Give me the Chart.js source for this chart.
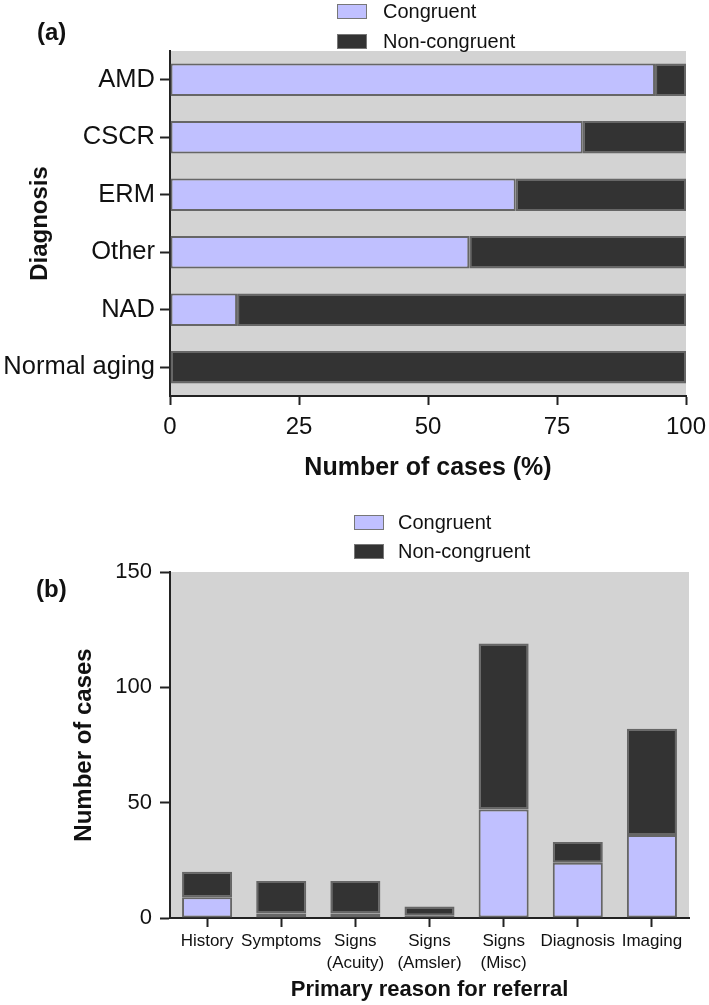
<!DOCTYPE html>
<html>
<head>
<meta charset="utf-8">
<script src="https://cdn.jsdelivr.net/npm/chart.js@4.4.1/dist/chart.umd.min.js"></script>
<style>
  body { margin: 0; background: #fff; font-family: "Liberation Sans", Arial, sans-serif; }
  #wrap { position: relative; width: 709px; height: 1005px; overflow: hidden; }
  canvas { position: absolute; left: 0; }
  .lbl { position: absolute; font-size: 20px; line-height: 20px; color: #111; white-space: nowrap; }
  .sw { position: absolute; width: 30px; height: 15px; box-sizing: border-box; border: 1px solid #777; }
  .panel { position: absolute; font-weight: bold; font-size: 24px; line-height: 28px; color: #111; }
</style>
</head>
<body>
<div id="wrap">
  <canvas id="chartA" width="709" height="500" style="top:0"></canvas>
  <canvas id="chartB" width="709" height="505" style="top:500px"></canvas>
  <div class="panel" style="left:37px;top:18px">(a)</div>
  <div class="panel" style="left:36px;top:575px">(b)</div>
  <div id="legendA"></div>
  <div id="legendB"></div>
</div>
<script>
// data
const seriesNames = ['Congruent', 'Non-congruent'];
const seriesColors = ['#c0c0ff', '#333333'];

// panel (a): % of cases per diagnosis
const diagnoses = ['AMD', 'CSCR', 'ERM', 'Other', 'NAD', 'Normal aging'];
const diagCongruent = [94, 80, 67, 58, 13, 0];
const diagNonCongruent = [6, 20, 33, 42, 87, 100];
const pctTicks = [0, 25, 50, 75, 100];

// panel (b): number of cases per primary reason for referral
const reasons = ['History', 'Symptoms', ['Signs', '(Acuity)'], ['Signs', '(Amsler)'], ['Signs', '(Misc)'], 'Diagnosis', 'Imaging'];
const reasonCongruent = [9, 2, 2, 1, 47, 24, 36];
const reasonNonCongruent = [11, 14, 14, 4, 72, 9, 46];
const countTicks = [0, 50, 100, 150];

Chart.defaults.font.family = '"Liberation Sans", Arial, sans-serif';
Chart.defaults.color = '#111';

// grey plot background
const plotBg = {
  id: 'plotBg',
  beforeDraw(chart) {
    const { ctx, chartArea: a } = chart;
    ctx.save();
    ctx.fillStyle = '#d3d3d3';
    ctx.fillRect(a.left, a.top, a.right - a.left, a.bottom - a.top);
    ctx.restore();
  }
};

// html legend, two rows
function buildLegend(id, left, textLeft, centers) {
  const box = document.getElementById(id);
  seriesNames.forEach((name, i) => {
    const sw = document.createElement('div');
    sw.className = 'sw';
    sw.style.left = left + 'px';
    sw.style.top = (centers[i] - 7) + 'px';
    sw.style.background = seriesColors[i];
    box.appendChild(sw);
    const t = document.createElement('div');
    t.className = 'lbl';
    t.style.left = textLeft + 'px';
    t.style.top = (centers[i] - 10) + 'px';
    t.textContent = name;
    box.appendChild(t);
  });
}
buildLegend('legendA', 337, 383, [11, 41]);
buildLegend('legendB', 354, 398, [522, 551]);

const axisLine = { color: '#222', width: 2 };
const tickGrid = { drawOnChartArea: false, drawTicks: true, tickLength: 10, tickColor: '#222', tickWidth: 2, offset: false };

function barSet(label, data, color) {
  return {
    label, data,
    backgroundColor: color,
    borderColor: '#666',
    borderWidth: 2,
    borderSkipped: false
  };
}

// no extra room for labels hanging over the plot edges
function noOverhang(s) {
  s.paddingLeft = 0; s.paddingRight = 0; s.paddingTop = 0; s.paddingBottom = 0;
}

// PANEL A - horizontal stacked bars
new Chart(document.getElementById('chartA'), {
  type: 'bar',
  data: {
    labels: diagnoses,
    datasets: [
      barSet(seriesNames[0], diagCongruent, seriesColors[0]),
      barSet(seriesNames[1], diagNonCongruent, seriesColors[1])
    ]
  },
  options: {
    indexAxis: 'y',
    responsive: false,
    animation: false,
    devicePixelRatio: 1,
    layout: { padding: { top: 51, right: 23, left: 0, bottom: 0 } },
    datasets: { bar: { barPercentage: 0.567, categoryPercentage: 1 } },
    plugins: { legend: { display: false }, tooltip: { enabled: false } },
    scales: {
      x: {
        type: 'linear', stacked: true, min: 0, max: 100,
        afterBuildTicks(s) { s.ticks = pctTicks.map(v => ({ value: v })); },
        afterFit(s) { s.height = 104; noOverhang(s); },
        border: axisLine,
        grid: { ...tickGrid, tickLength: 9 },
        ticks: { font: { size: 24 }, padding: 8, maxRotation: 0 },
        title: { display: true, text: 'Number of cases (%)', font: { size: 25, weight: 'bold' }, padding: { top: 0, bottom: 17 } }
      },
      y: {
        stacked: true,
        afterFit(s) { s.width = 170; noOverhang(s); },
        border: axisLine,
        grid: tickGrid,
        ticks: { font: { size: 25.5 }, padding: 5 },
        title: { display: true, text: 'Diagnosis', font: { size: 24, weight: 'bold' }, padding: { top: 26, bottom: 0 } }
      }
    }
  },
  plugins: [plotBg]
});

// PANEL B - vertical stacked bars
new Chart(document.getElementById('chartB'), {
  type: 'bar',
  data: {
    labels: reasons,
    datasets: [
      barSet(seriesNames[0], reasonCongruent, seriesColors[0]),
      barSet(seriesNames[1], reasonNonCongruent, seriesColors[1])
    ]
  },
  options: {
    responsive: false,
    animation: false,
    devicePixelRatio: 1,
    layout: { padding: { top: 72, right: 20, left: 0, bottom: 0 } },
    datasets: { bar: { barPercentage: 0.675, categoryPercentage: 1 } },
    plugins: { legend: { display: false }, tooltip: { enabled: false } },
    scales: {
      x: {
        stacked: true,
        afterFit(s) { s.height = 87; noOverhang(s); },
        border: axisLine,
        grid: { ...tickGrid, tickLength: 9 },
        ticks: { font: { size: 17, lineHeight: 1.25 }, padding: 4, maxRotation: 0, autoSkip: false },
        title: { display: true, text: 'Primary reason for referral', font: { size: 22, weight: 'bold' }, padding: { top: 0, bottom: 2 } }
      },
      y: {
        type: 'linear', stacked: true, min: 0, max: 150,
        afterBuildTicks(s) { s.ticks = countTicks.map(v => ({ value: v })); },
        afterFit(s) { s.width = 170; noOverhang(s); },
        border: axisLine,
        grid: tickGrid,
        ticks: { font: { size: 22 }, padding: 8 },
        title: { display: true, text: 'Number of cases', font: { size: 24, weight: 'bold' }, padding: { top: 70, bottom: 0 } }
      }
    }
  },
  plugins: [plotBg]
});
</script>
</body>
</html>
